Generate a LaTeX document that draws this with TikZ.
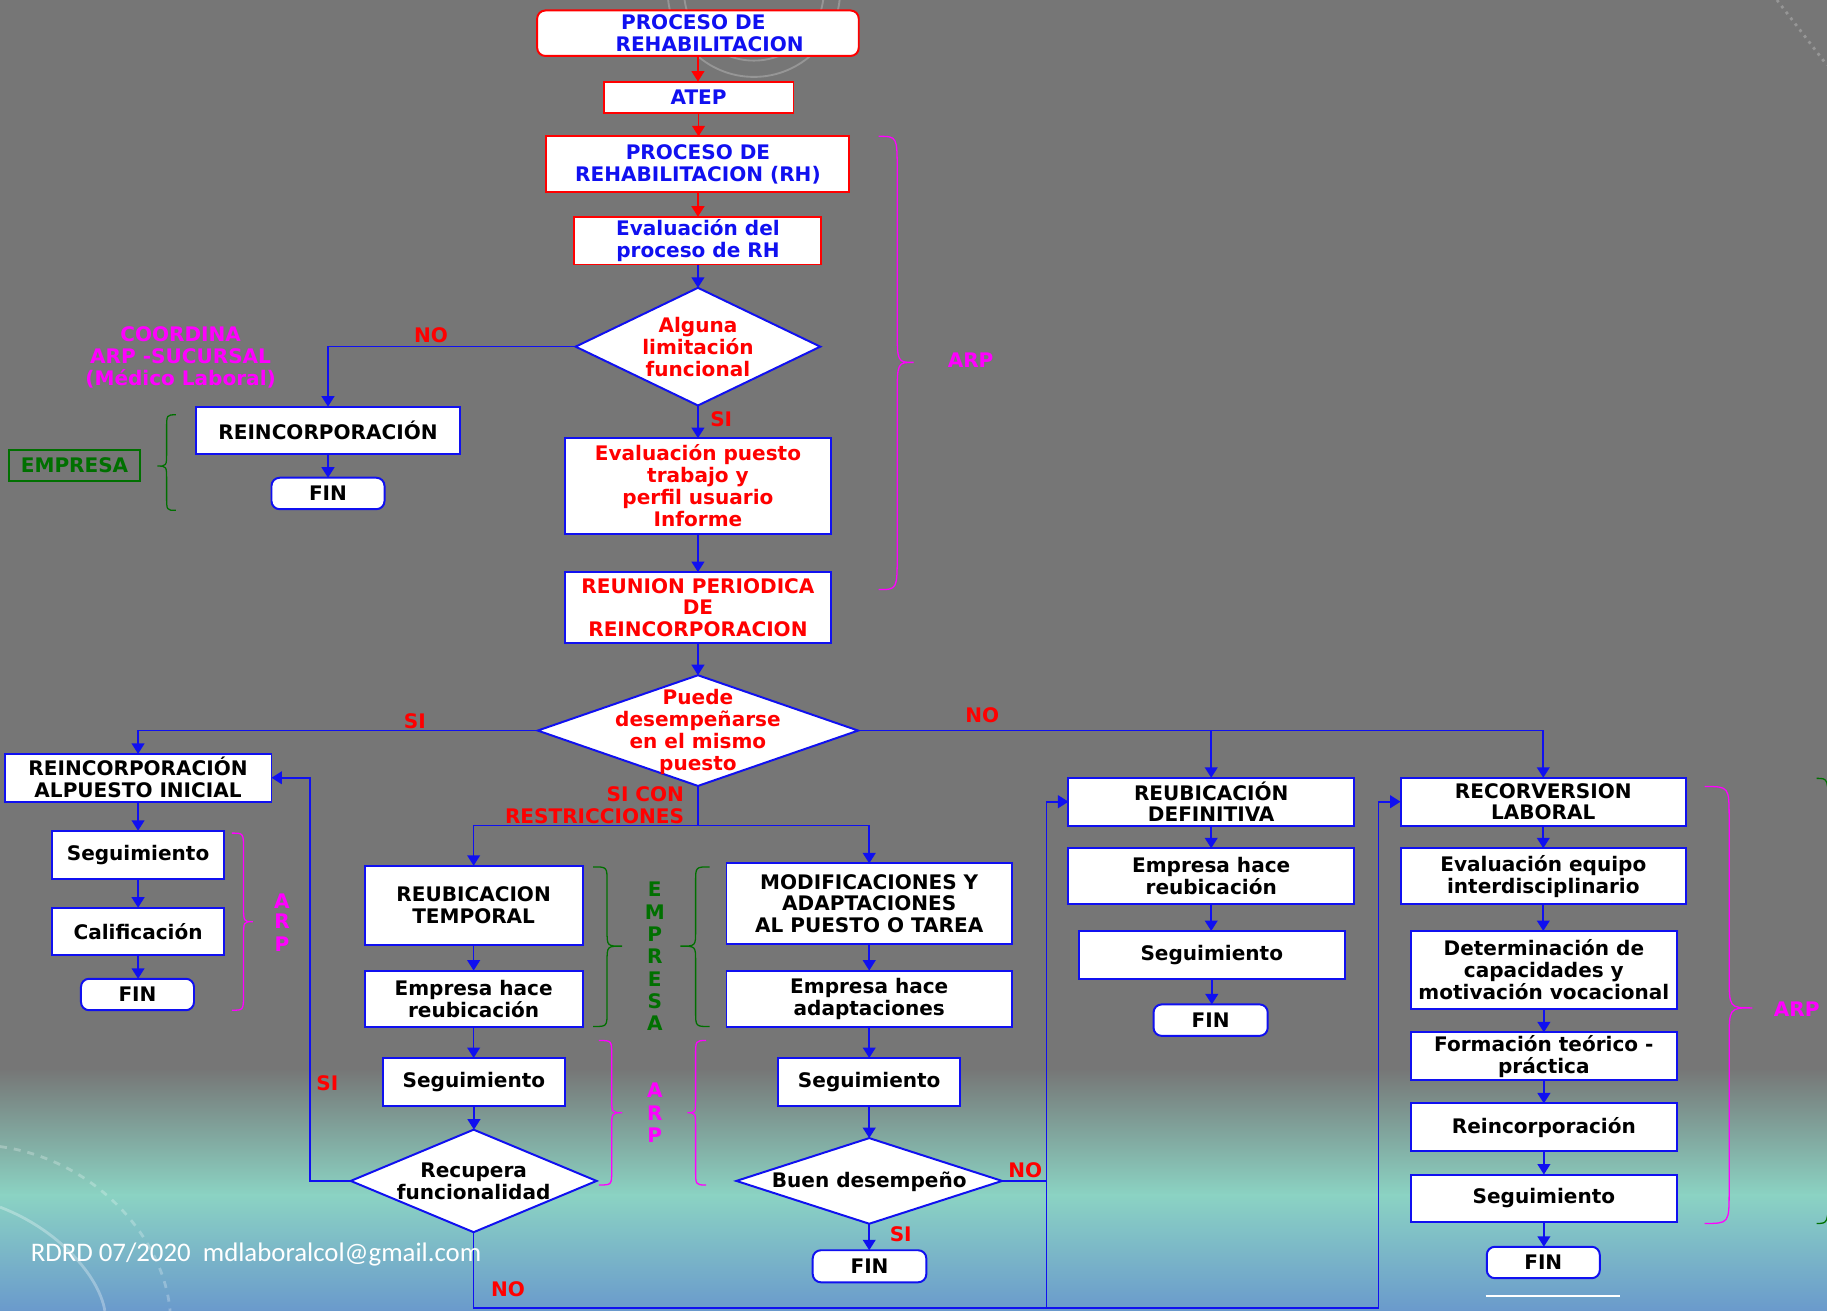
\documentclass[tikz,border=0pt]{standalone}
\usepackage{fontspec}
\setmainfont{DejaVu Sans}
\newfontfamily\footfont{Carlito}
\usetikzlibrary{shapes.geometric,arrows.meta}
\definecolor{bgray}{RGB}{118,118,118}
\definecolor{bteal}{RGB}{139,211,195}
\definecolor{bblue}{RGB}{106,154,204}
\definecolor{fblue}{RGB}{16,16,240}
\definecolor{fred}{RGB}{255,0,0}
\definecolor{fmag}{RGB}{255,0,255}
\definecolor{fgreen}{RGB}{0,112,0}
\definecolor{deco}{RGB}{150,150,150}
\newcommand\bx[7]{\node[#6, minimum width={(#4-#2)*0.5pt}, minimum height={(#5-#3)*0.5pt}] (#1) at ({(#2+#4)/2},{(#3+#5)/2}) {#7};}
\newcommand\dm[5]{\node[dia, minimum width={#4*0.5pt}, minimum height={#5*0.5pt}] (#1) at (#2,#3) {};}
\newcommand\BrC[8]{\draw[#1] (#2,#5) .. controls (#3,#5) .. (#3,{#5+#8}) -- (#3,{#6-#8}) .. controls (#3,#6) .. (#4,#6) .. controls (#3,#6) .. (#3,{#6+#8}) -- (#3,{#7-#8}) .. controls (#3,#7) .. (#2,#7);}
\begin{document}
\begin{tikzpicture}[x=0.5pt,y=-0.5pt,
 base/.style={font=\bfseries\fontsize{8.6}{9.4}\selectfont, align=center, inner sep=0pt, outer sep=0pt},
 bx/.style={base, draw=fblue, fill=white, line width=0.85pt},
 rbx/.style={base, draw=fred, fill=white, line width=0.85pt, text=fblue},
 rnd/.style={rounded corners=3.5pt},
 dia/.style={diamond, draw=fblue, fill=white, line width=0.85pt, inner sep=0pt, outer sep=0pt},
 arr/.style={draw=fblue, line width=0.7pt, -{Triangle[length=4.5pt,width=5.5pt]}},
 rarr/.style={draw=fred, line width=0.7pt, -{Triangle[length=4.5pt,width=5.5pt]}},
 ln/.style={draw=fblue, line width=0.7pt},
 lab/.style={base, text=fred},
 mlab/.style={base, text=fmag},
 glab/.style={base, text=fgreen},
 brM/.style={draw=fmag, line width=0.55pt},
 brG/.style={draw=fgreen, line width=0.55pt},
]
% background
\useasboundingbox (0,0) rectangle (1568,1125);
\fill[bgray] (0,0) rectangle (1568,918);
\shade[top color=bgray,bottom color=bteal] (0,917) rectangle (1568,1026);
\shade[top color=bteal,bottom color=bblue] (0,1025) rectangle (1568,1125);
% decorations
\draw[deco, line width=0.8pt] (647,-8) circle[radius=74];
\draw[deco, line width=0.8pt] (647,-8) circle[radius=60];
\draw[deco, dotted, line width=1.2pt] (1525,0) -- (1568,56);
\draw[white, opacity=0.25, line width=1.2pt, dashed] (0,984) .. controls (80,995) and (140,1060) .. (146,1125);
\draw[white, opacity=0.3, line width=1.2pt] (0,1036) .. controls (50,1055) and (85,1095) .. (90,1125);

% top chain
\bx{top}{461}{9}{737}{48}{rbx,rnd}{\hspace*{-4pt}PROCESO DE\\\hspace*{10pt}REHABILITACION}
\bx{atep}{518}{70}{681}{97}{rbx}{ATEP}
\bx{prh}{469}{117}{729}{165}{rbx}{PROCESO DE\\REHABILITACION (RH)}
\bx{evrh}{493}{186}{705}{227}{rbx}{Evaluación del\\proceso de RH}
\dm{d1}{599}{297.5}{210}{101}
\node[lab] (d1t) at (599,298) {Alguna\\limitación\\funcional};
\bx{reinc}{168}{349}{395}{390}{bx}{REINCORPORACIÓN}
\bx{fin1}{233}{410}{330}{437}{bx,rnd}{FIN}
\node[mlab] (coord) at (155,307) {COORDINA\\ARP -SUCURSAL\\(Médico Laboral)};
\bx{emp}{8}{386}{120}{413}{glab,draw=fgreen,line width=0.85pt}{EMPRESA}
\BrC{brG}{151}{143}{135}{356}{400}{438}{12}
\bx{evp}{485}{376}{713}{458}{bx,text=fred}{Evaluación puesto\\trabajo y\\perfil usuario\\Informe}
\bx{reu}{485}{491}{713}{552}{bx,text=fred}{REUNION PERIODICA\\DE\\REINCORPORACION}
\BrC{brM}{754}{770}{784}{117}{311}{506}{30}
\node[mlab] (arp1) at (833,309) {ARP};
\dm{d2}{599}{627}{275}{95}
\node[lab] (d2t) at (599,628) {Puede\\desempeñarse\\en el mismo\\puesto};

% left column
\bx{alp}{4}{647}{233}{688}{bx}{REINCORPORACIÓN\\ALPUESTO INICIAL}
\bx{seg1}{45}{713}{192}{754}{bx}{Seguimiento}
\bx{cal}{45}{779}{192}{820}{bx}{Calificación}
\bx{fin2}{69.5}{840}{166.5}{867}{bx,rnd}{FIN}
\BrC{brM}{199}{209}{217}{715}{791}{867}{14}
\foreach \c/\yy [count=\i] in {A/773,R/791,P/810} \node[mlab] (arpL\i) at (242,\yy) {\c};

% middle-left column
\bx{rt}{313}{743}{500}{811}{bx}{REUBICACION\\TEMPORAL}
\bx{ehr}{313}{833}{500}{881.5}{bx}{Empresa hace\\reubicación}
\bx{seg2}{329}{908}{484.5}{949}{bx}{Seguimiento}
\dm{d3}{406.5}{1013.5}{211}{88}
\node[base] (d3t) at (406.5,1014) {Recupera\\funcionalidad};

% middle-right column
\bx{mod}{623.5}{741}{868.5}{810}{bx}{MODIFICACIONES Y\\ADAPTACIONES\\AL PUESTO O TAREA}
\bx{eha}{623.5}{833}{868.5}{881.5}{bx}{Empresa hace\\adaptaciones}
\bx{seg3}{668}{908}{824}{949}{bx}{Seguimiento}
\dm{d4}{746}{1013.5}{228}{73.5}
\node[base] (d4t) at (746,1014) {Buen desempeño};
\bx{fin3}{697.5}{1073}{795}{1100.5}{bx,rnd}{FIN}

% middle braces
\BrC{brG}{509}{521}{534}{744}{812}{881}{13}
\BrC{brG}{609}{597}{584}{744}{812}{881}{13}
\BrC{brM}{514}{525}{534}{893}{955}{1017}{13}
\BrC{brM}{606}{597}{590}{893}{955}{1017}{13}
\foreach \c/\yy [count=\i] in {E/763,M/783,P/802,R/821,E/840,S/859,A/878} \node[glab] (emp\i) at (562,\yy) {\c};
\foreach \c/\yy [count=\i] in {A/936,R/955,P/974} \node[mlab] (arpM\i) at (562,\yy) {\c};

% right columns
\bx{rd}{917}{667.5}{1162}{708.6}{bx}{REUBICACIÓN\\DEFINITIVA}
\bx{ehr2}{917}{728}{1162}{776}{bx}{Empresa hace\\reubicación}
\bx{seg4}{926}{799}{1154}{840}{bx}{Seguimiento}
\bx{fin4}{990}{862}{1088}{889}{bx,rnd}{FIN}
\bx{rl}{1202}{667.5}{1447}{708.6}{bx}{RECORVERSION\\LABORAL}
\bx{eei}{1202}{728}{1447}{776}{bx}{Evaluación equipo\\interdisciplinario}
\bx{det}{1211}{799}{1439}{866}{bx}{Determinación de\\capacidades y\\motivación vocacional}
\bx{form}{1211}{886}{1439}{927}{bx}{Formación teórico -\\práctica}
\bx{reinc2}{1211}{947}{1439}{988}{bx}{Reincorporación}
\bx{seg5}{1211}{1008}{1439}{1049}{bx}{Seguimiento}
\bx{fin5}{1276}{1070}{1373}{1097}{bx,rnd}{FIN}
\draw[white, line width=0.7pt] (1275,1112) -- (1390,1112);
\BrC{brM}{1463}{1484}{1504}{675}{865}{1050}{28}
\node[mlab] (arp3) at (1542,866) {ARP};
\BrC{brG}{1559}{1569}{1580}{668}{860}{1050}{28}

% connectors
\draw[rarr] (top.south) -- (top.south |- atep.north);
\draw[rarr] (atep.south) -- (atep.south |- prh.north);
\draw[rarr] (prh.south) -- (prh.south |- evrh.north);
\draw[arr] (evrh.south) -- (evrh.south |- d1.north);
\draw[arr] (d1.west) -| (reinc.north);
\draw[arr] (reinc.south) -- (reinc.south |- fin1.north);
\draw[arr] (d1.south) -- (d1.south |- evp.north);
\draw[arr] (evp.south) -- (evp.south |- reu.north);
\draw[arr] (reu.south) -- (reu.south |- d2.north);
\draw[arr] (d2.west) -| (alp.north);
\draw[arr] (d2.east) -| (rl.north);
\draw[arr] (d2.east -| rd.north) -- (rd.north);
\coordinate (j1) at (599,708.6);
\draw[ln] (d2.south) -- (j1);
\draw[arr] (j1) -| (rt.north);
\draw[arr] (j1) -| (mod.north);
\draw[arr] (alp.south) -- (alp.south |- seg1.north);
\draw[arr] (seg1.south) -- (seg1.south |- cal.north);
\draw[arr] (cal.south) -- (cal.south |- fin2.north);
\draw[arr] (rt.south) -- (rt.south |- ehr.north);
\draw[arr] (ehr.south) -- (ehr.south |- seg2.north);
\draw[arr] (seg2.south) -- (seg2.south |- d3.north);
\draw[arr] (mod.south) -- (mod.south |- eha.north);
\draw[arr] (eha.south) -- (eha.south |- seg3.north);
\draw[arr] (seg3.south) -- (seg3.south |- d4.north);
\draw[arr] (d4.south) -- (d4.south |- fin3.north);
\draw[arr] (rd.south) -- (rd.south |- ehr2.north);
\draw[arr] (ehr2.south) -- (ehr2.south |- seg4.north);
\draw[arr] (seg4.south) -- (seg4.south |- fin4.north);
\draw[arr] (rl.south) -- (rl.south |- eei.north);
\draw[arr] (eei.south) -- (eei.south |- det.north);
\draw[arr] (det.south) -- (det.south |- form.north);
\draw[arr] (form.south) -- (form.south |- reinc2.north);
\draw[arr] (reinc2.south) -- (reinc2.south |- seg5.north);
\draw[arr] (seg5.south) -- (seg5.south |- fin5.north);
\coordinate (lp) at (266,1013.5);
\draw[arr] (d3.west) -- (lp) |- (alp.east);
\coordinate (b1) at (898,1122.5);
\coordinate (b2) at (1183,1122.5);
\draw[arr] (d3.south) |- (b2) |- (rl.west);
\draw[arr] (b1) |- (rd.west);
\draw[ln] (d4.east) -- (d4.east -| b1);

% labels
\node[lab] (no1) at (370,288) {NO};
\node[lab] (si1) at (619,360) {SI};
\node[lab] (si2) at (356,619) {SI};
\node[lab] (no2) at (843,614) {NO};
\node[lab, align=right, anchor=east] (sicon) at (587,691) {SI CON\\RESTRICCIONES};
\node[lab] (si3) at (281,930) {SI};
\node[lab] (no3) at (436,1106) {NO};
\node[lab] (no4) at (880,1004) {NO};
\node[lab] (si4) at (773,1059) {SI};
\node[font=\footfont\fontsize{11.5}{13}\selectfont, text=white, anchor=base west, inner sep=0pt] (foot) at (26,1082.5) {RDRD 07/2020\ \ mdlaboralcol@gmail.com};
\end{tikzpicture}
\end{document}
